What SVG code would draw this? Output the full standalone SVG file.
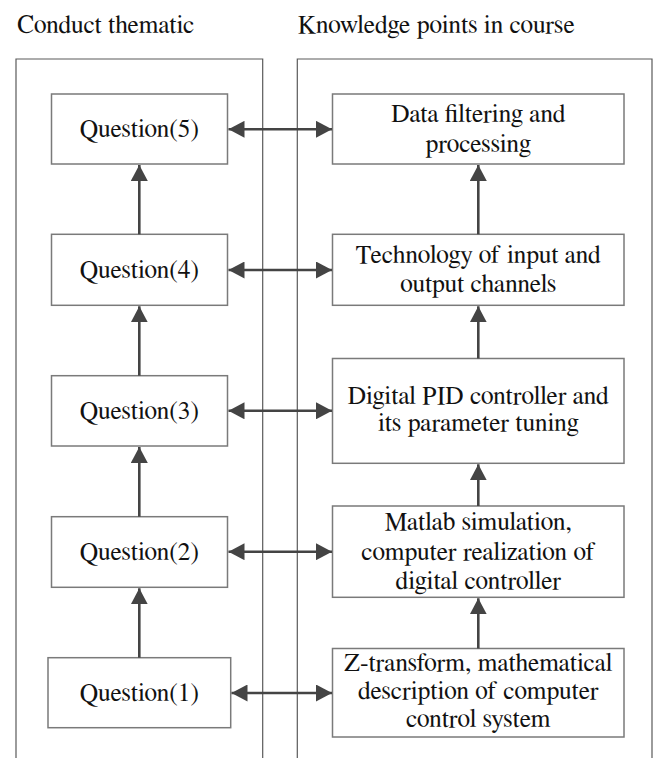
<svg xmlns="http://www.w3.org/2000/svg" width="656" height="758" viewBox="0 0 656 758">
  <style>
    /* slightly condensed serif lettering: x coordinates are given in the scaled space (x / 0.96) */
    text { font-family: FreeSerif, "Liberation Serif", "DejaVu Serif", serif; font-size: 26.5px; fill: #111; transform: scale(0.96, 1); }
    .mid { text-anchor: middle; }
    .panel { fill: none; stroke: #5a5a5a; stroke-width: 1.2; }
    .box { fill: #fff; stroke: #7a7a7a; stroke-width: 1.5; }
    .link { fill: none; stroke: #444; stroke-width: 2.6; }
  </style>
  <defs>
    <marker id="head" markerUnits="userSpaceOnUse" markerWidth="17" markerHeight="17" viewBox="0 0 17 17" refX="16" refY="8.5" orient="auto-start-reverse">
      <path d="M0,0 L16,8.5 L0,17 Z" fill="#444"/>
    </marker>
  </defs>

  <!-- column headings -->
  <text x="17.7" y="33">Conduct thematic</text>
  <text x="310.4" y="33">Knowledge points in course</text>

  <!-- column frames (open at the bottom) -->
  <g id="col-thematic">
    <path class="panel" d="M16,758 V59 H262.7 V758"/>
  </g>
  <g id="col-knowledge">
    <path class="panel" d="M297.3,758 V59 H652 V758"/>
  </g>

  <!-- left column: questions -->
  <g id="q5">
    <rect class="box" x="51.5" y="94" width="176" height="70"/>
    <text class="mid" x="145.1" y="137.5">Question(5)</text>
  </g>
  <g id="q4">
    <rect class="box" x="51.5" y="234.3" width="176" height="71"/>
    <text class="mid" x="145.1" y="278.2">Question(4)</text>
  </g>
  <g id="q3">
    <rect class="box" x="51.5" y="375.7" width="176" height="70.3"/>
    <text class="mid" x="145.1" y="419.3">Question(3)</text>
  </g>
  <g id="q2">
    <rect class="box" x="51.5" y="516.7" width="176" height="70.6"/>
    <text class="mid" x="145.1" y="560.2">Question(2)</text>
  </g>
  <g id="q1">
    <rect class="box" x="48" y="657.7" width="182.7" height="70"/>
    <text class="mid" x="145.1" y="701.2">Question(1)</text>
  </g>

  <!-- right column: course knowledge points -->
  <g id="k5">
    <rect class="box" x="332.5" y="94" width="291.5" height="70"/>
    <text class="mid" x="498.2" y="122.5">Data filtering and</text>
    <text class="mid" x="498.2" y="152">processing</text>
  </g>
  <g id="k4">
    <rect class="box" x="332.5" y="234.3" width="291.5" height="71"/>
    <text class="mid" x="498.2" y="263">Technology of input and</text>
    <text class="mid" x="498.2" y="292.5">output channels</text>
  </g>
  <g id="k3">
    <rect class="box" x="332.5" y="358.5" width="291.5" height="104.8"/>
    <text class="mid" x="498.2" y="403.8">Digital PID controller and</text>
    <text class="mid" x="498.2" y="431.5">its parameter tuning</text>
  </g>
  <g id="k2">
    <rect class="box" x="332.5" y="506" width="291.5" height="91.3"/>
    <text class="mid" x="498.2" y="530.3">Matlab simulation,</text>
    <text class="mid" x="498.2" y="559.6">computer realization of</text>
    <text class="mid" x="498.2" y="588.6">digital controller</text>
  </g>
  <g id="k1">
    <rect class="box" x="332.5" y="648.5" width="291.5" height="88.5"/>
    <text class="mid" x="498.2" y="670.8">Z-transform, mathematical</text>
    <text class="mid" x="498.2" y="699">description of computer</text>
    <text class="mid" x="498.2" y="727.3">control system</text>
  </g>

  <!-- connectors -->
  <g id="connectors">
    <!-- question progression -->
    <line class="link" x1="139.3" y1="657.7" x2="139.3" y2="588.3" marker-end="url(#head)"/>
    <line class="link" x1="139.3" y1="516.7" x2="139.3" y2="447" marker-end="url(#head)"/>
    <line class="link" x1="139.3" y1="375.7" x2="139.3" y2="306.3" marker-end="url(#head)"/>
    <line class="link" x1="139.3" y1="234.3" x2="139.3" y2="165" marker-end="url(#head)"/>
    <!-- knowledge progression -->
    <line class="link" x1="478.3" y1="648.5" x2="478.3" y2="598.3" marker-end="url(#head)"/>
    <line class="link" x1="478.3" y1="506" x2="478.3" y2="464.3" marker-end="url(#head)"/>
    <line class="link" x1="478.3" y1="358.5" x2="478.3" y2="306.3" marker-end="url(#head)"/>
    <line class="link" x1="478.3" y1="234.3" x2="478.3" y2="165" marker-end="url(#head)"/>
    <!-- question to knowledge links -->
    <line class="link" x1="228.5" y1="129.3" x2="332" y2="129.3" marker-start="url(#head)" marker-end="url(#head)"/>
    <line class="link" x1="228.5" y1="270" x2="332" y2="270" marker-start="url(#head)" marker-end="url(#head)"/>
    <line class="link" x1="228.5" y1="410.8" x2="332" y2="410.8" marker-start="url(#head)" marker-end="url(#head)"/>
    <line class="link" x1="228.5" y1="551.7" x2="332" y2="551.7" marker-start="url(#head)" marker-end="url(#head)"/>
    <line class="link" x1="231.5" y1="693" x2="332" y2="693" marker-start="url(#head)" marker-end="url(#head)"/>
  </g>
</svg>
